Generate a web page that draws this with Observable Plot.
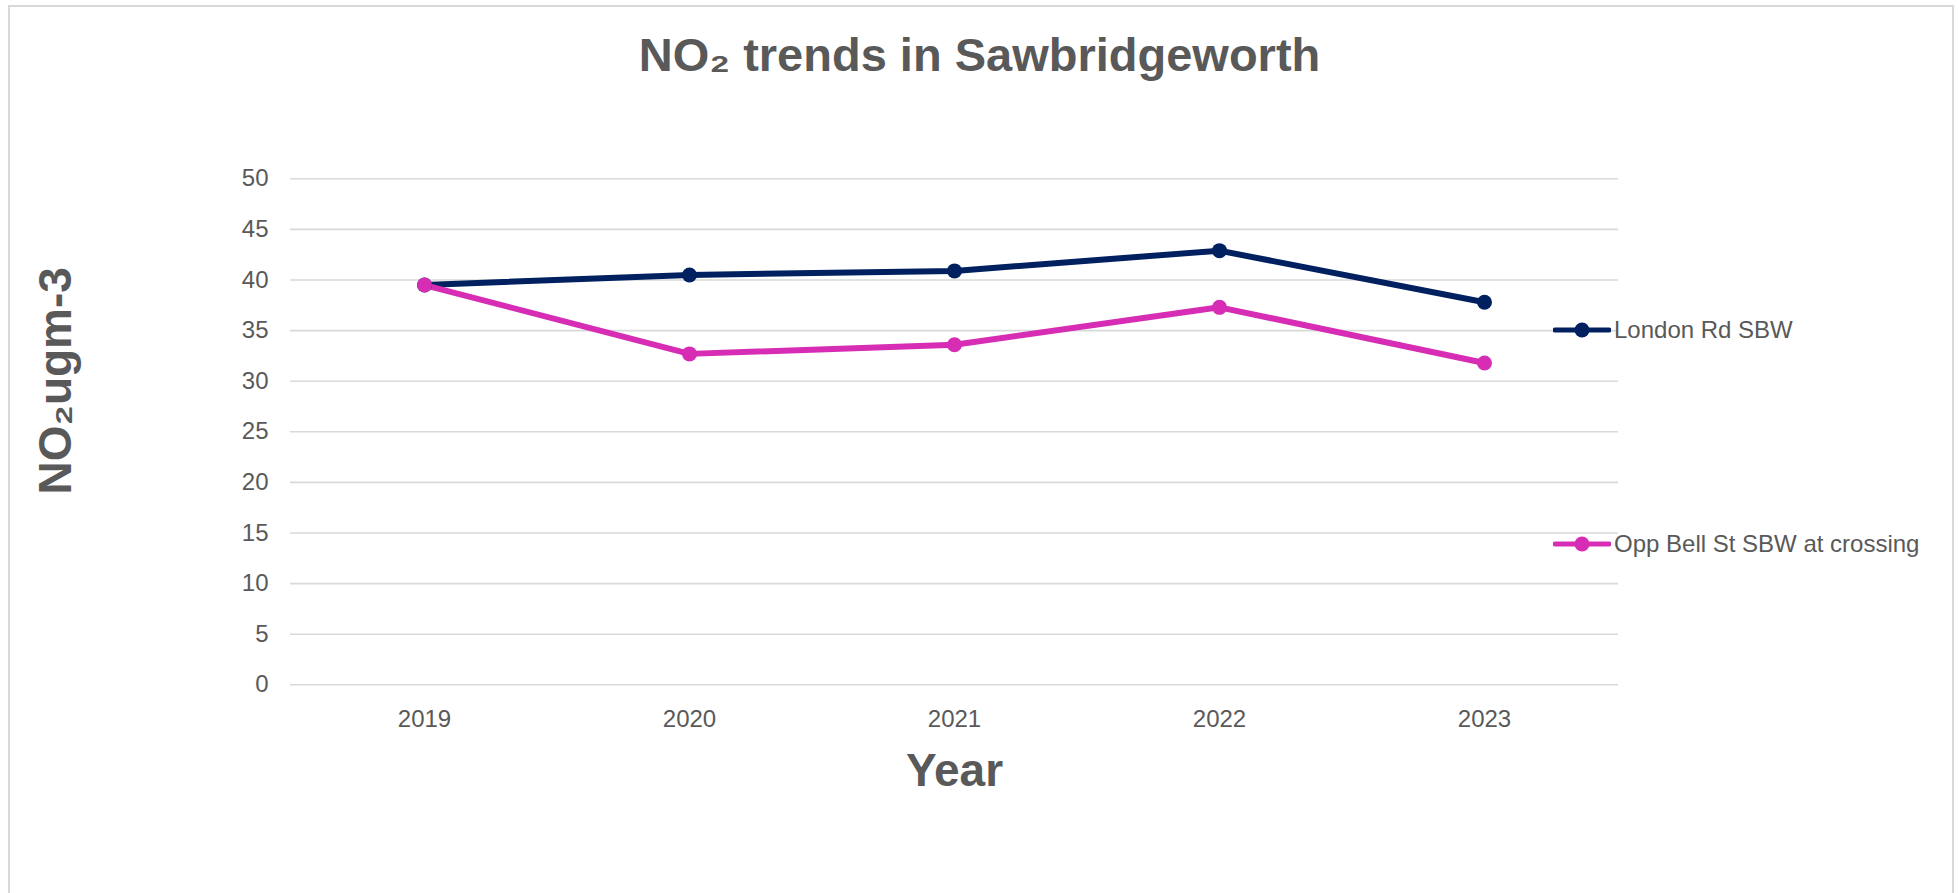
<!DOCTYPE html>
<html>
<head>
<meta charset="utf-8">
<script src="https://cdn.jsdelivr.net/npm/d3@7"></script>
<script src="https://cdn.jsdelivr.net/npm/@observablehq/plot@0.6"></script>
<style>
  html, body { margin: 0; padding: 0; background: #fff; overflow: hidden; width: 1959px; height: 893px; }
  body { position: relative; font-family: "Liberation Sans", Arial, sans-serif; color: #595959; }
  #title { position: absolute; left: 0; top: 31px; width: 1959px; text-align: center; font-size: 47px; line-height: 47px; font-weight: bold; color: #595959; white-space: nowrap; }
  #chart { position: absolute; left: 0; top: 100px; }
  #chart svg { background: transparent !important; }
  .legend-item { position: absolute; left: 1553px; height: 24px; display: flex; align-items: center; white-space: nowrap; font-size: 24px; line-height: 24px; color: #595959; }
  .legend-item svg { display: block; margin-right: 3px; }
  #frame { position: absolute; left: 8px; top: 5px; width: 1942px; height: 1000px; border: 2px solid #d9d9d9; pointer-events: none; }
</style>
</head>
<body>
<div id="title"></div>
<div id="chart"></div>
<div id="legend"></div>
<div id="frame"></div>
<script>
// ---- data ----
const titleText = "NO₂ trends in Sawbridgeworth";
const yTitle = "NO₂ugm-3";
const xTitle = "Year";
const years = ["2019", "2020", "2021", "2022", "2023"];
const londonRd = [39.5, 40.5, 40.9, 42.9, 37.8];
const oppBellSt = [39.5, 32.7, 33.6, 37.3, 31.8];
const seriesNames = ["London Rd SBW", "Opp Bell St SBW at crossing"];
const seriesColors = ["#002060", "#d62db4"];
const yTicks = [0, 5, 10, 15, 20, 25, 30, 35, 40, 45, 50];

// ---- build table ----
const seriesValues = [londonRd, oppBellSt];
const rows = [];
seriesNames.forEach((name, si) => {
  years.forEach((yr, i) => rows.push({year: yr, value: seriesValues[si][i], series: name}));
});

document.getElementById("title").textContent = titleText;

const W = 1959, H = 793;
const mTop = 78.3, mBottom = 208.7, mLeft = 290, mRight = 341;

const plot = Plot.plot({
  width: W,
  height: H,
  marginTop: mTop,
  marginBottom: mBottom,
  marginLeft: mLeft,
  marginRight: mRight,
  style: {fontFamily: "'Liberation Sans', Arial, sans-serif", fontSize: "24px", color: "#595959", background: "transparent"},
  x: {type: "point", domain: years, padding: 0.5, align: 0.5},
  y: {domain: [0, 50]},
  color: {domain: seriesNames, range: seriesColors},
  marks: [
    Plot.gridY(yTicks, {stroke: "#d9d9d9", strokeOpacity: 1, strokeWidth: 1.6}),
    Plot.axisY(yTicks, {tickSize: 0, tickPadding: 22, fontSize: 24, label: null, fill: "#595959"}),
    Plot.axisX(years, {tickSize: 0, tickPadding: 25, fontSize: 24, label: null, fill: "#595959"}),
    Plot.line(rows, {x: "year", y: "value", z: "series", stroke: "series", strokeWidth: 6, strokeLinejoin: "round", strokeLinecap: "round"}),
    Plot.dot(rows, {x: "year", y: "value", fill: "series", r: 7.5, stroke: null}),
    Plot.text([yTitle], {text: d => d, frameAnchor: "left", rotate: -90, dx: -234, dy: -51, fontSize: 46, fontWeight: "bold", fill: "#595959", textAnchor: "middle", lineAnchor: "middle"}),
    Plot.text([xTitle], {text: d => d, frameAnchor: "bottom", dy: 86, fontSize: 46, fontWeight: "bold", fill: "#595959", textAnchor: "middle", lineAnchor: "middle"})
  ]
});
document.getElementById("chart").appendChild(plot);

// ---- legend ----
const legendTops = [318, 532];
const legend = document.getElementById("legend");
seriesNames.forEach((name, i) => {
  const item = document.createElement("div");
  item.className = "legend-item";
  item.style.top = legendTops[i] + "px";
  const ns = "http://www.w3.org/2000/svg";
  const sw = document.createElementNS(ns, "svg");
  sw.setAttribute("width", 58);
  sw.setAttribute("height", 24);
  const ln = document.createElementNS(ns, "line");
  ln.setAttribute("x1", 2); ln.setAttribute("x2", 56);
  ln.setAttribute("y1", 12); ln.setAttribute("y2", 12);
  ln.setAttribute("stroke", seriesColors[i]);
  ln.setAttribute("stroke-width", 5);
  ln.setAttribute("stroke-linecap", "round");
  const c = document.createElementNS(ns, "circle");
  c.setAttribute("cx", 29); c.setAttribute("cy", 12); c.setAttribute("r", 7.5);
  c.setAttribute("fill", seriesColors[i]);
  sw.appendChild(ln); sw.appendChild(c);
  const t = document.createElement("span");
  t.textContent = name;
  item.appendChild(sw); item.appendChild(t);
  legend.appendChild(item);
});
</script>
</body>
</html>
